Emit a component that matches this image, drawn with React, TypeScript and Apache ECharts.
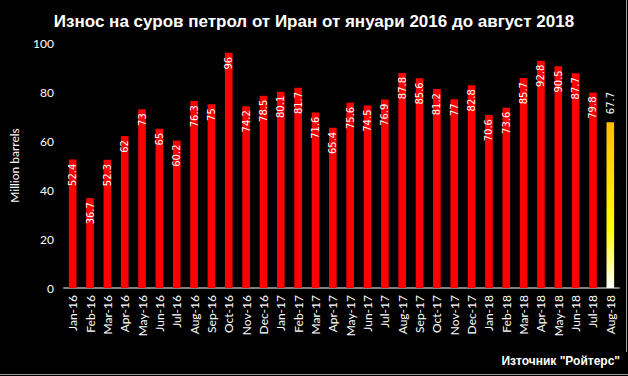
import React, { useEffect, useRef } from "react";
import * as echarts from "echarts";

const categories = [
  "Jan-16", "Feb-16", "Mar-16", "Apr-16", "May-16", "Jun-16", "Jul-16", "Aug-16",
  "Sep-16", "Oct-16", "Nov-16", "Dec-16", "Jan-17", "Feb-17", "Mar-17", "Apr-17",
  "May-17", "Jun-17", "Jul-17", "Aug-17", "Sep-17", "Oct-17", "Nov-17", "Dec-17",
  "Jan-18", "Feb-18", "Mar-18", "Apr-18", "May-18", "Jun-18", "Jul-18", "Aug-18",
];
const values = [
  52.4, 36.7, 52.3, 62, 73, 65, 60.2, 76.3, 75, 96, 74.2, 78.5, 80.1, 81.7, 71.6, 65.4,
  75.6, 74.5, 76.9, 87.8, 85.6, 81.2, 77, 82.8, 70.6, 73.6, 85.7, 92.8, 90.5, 87.7, 79.8, 67.7,
];
const yTicks = { min: 0, max: 100, interval: 20 };
const titleText = "Износ на суров петрол от Иран от януари 2016 до август 2018";
const sourceText = 'Източник "Ройтерс"';
const yName = "Million barrels";

export default function App() {
  const ref = useRef<HTMLDivElement>(null);
  useEffect(() => {
    document.body.style.margin = "0";
    document.body.style.background = "#000";
    const chart = echarts.init(ref.current!, null, { renderer: "svg" });
    const last = values.length - 1;
    const data = values.map((v, i) =>
      i === last
        ? {
            value: v,
            itemStyle: {
              color: new echarts.graphic.LinearGradient(0, 0, 0, 1, [
                { offset: 0, color: "#ffbf00" },
                { offset: 0.65, color: "#ffff00" },
                { offset: 1, color: "#ffffff" },
              ]),
            },
            label: {
              position: "top",
              align: "left",
              verticalAlign: "middle",
              distance: 8,
            },
          }
        : v
    );
    chart.setOption({
      animation: false,
      backgroundColor: "#000",
      title: {
        text: titleText,
        left: "center",
        top: 8,
        textStyle: {
          color: "#fff",
          fontFamily: "Liberation Sans",
          fontWeight: "bold",
          fontSize: 17,
        },
      },
      grid: { left: 55, right: 9, top: 43, bottom: 88, containLabel: false },
      xAxis: {
        type: "category",
        data: categories,
        axisLine: { lineStyle: { color: "#808080", width: 2 } },
        axisTick: { show: false },
        axisLabel: {
          rotate: 90,
          color: "#fff",
          fontFamily: "Lato",
          fontSize: 12,
          margin: 7,
          interval: 0,
        },
      },
      yAxis: {
        type: "value",
        min: yTicks.min,
        max: yTicks.max,
        interval: yTicks.interval,
        splitLine: { show: false },
        axisLine: { show: false },
        axisTick: { show: false },
        axisLabel: { color: "#fff", fontFamily: "Lato", fontSize: 12, margin: 10 },
        name: yName,
        nameLocation: "middle",
        nameRotate: 90,
        nameGap: 44,
        nameTextStyle: { color: "#fff", fontFamily: "Lato", fontSize: 12 },
      },
      series: [
        {
          type: "bar",
          data,
          barWidth: "44%",
          itemStyle: { color: "#ff0000" },
          label: {
            show: true,
            position: "insideTop",
            rotate: 90,
            align: "right",
            verticalAlign: "middle",
            distance: 4,
            color: "#fff",
            fontFamily: "DejaVu Sans",
            fontSize: 10,
          },
        },
      ],
      graphic: [
        {
          type: "text",
          right: 8,
          top: 355,
          style: {
            text: sourceText,
            fill: "#fff",
            fontFamily: "Liberation Sans",
            fontWeight: "bold",
            fontSize: 12,
          },
        },
        {
          type: "line",
          shape: { x1: 626.5, y1: 0, x2: 626.5, y2: 352 },
          style: { stroke: "#9a9a9a", lineWidth: 1 },
        },
        {
          type: "line",
          shape: { x1: 0, y1: 374.5, x2: 628, y2: 374.5 },
          style: { stroke: "#9a9a9a", lineWidth: 1 },
        },
      ],
    });
    return () => chart.dispose();
  }, []);
  return <div ref={ref} style={{ width: 628, height: 376 }} />;
}
